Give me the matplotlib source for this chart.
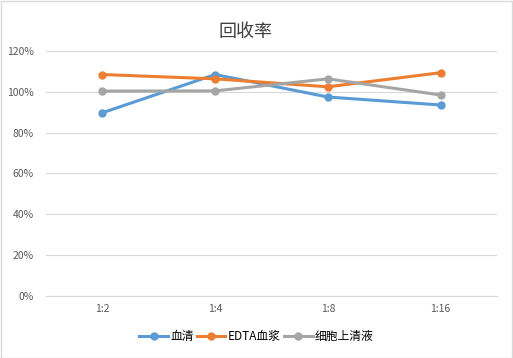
import matplotlib
matplotlib.use("Agg")
import matplotlib.pyplot as plt
from matplotlib.ticker import PercentFormatter

plt.rcParams['font.family'] = ['Noto Sans CJK SC', 'DejaVu Sans']

categories = ['1:2', '1:4', '1:8', '1:16']
serum = [89.7, 108.4, 97.4, 93.5]
edta = [108.4, 106.3, 102.4, 109.3]
supernatant = [100.3, 100.4, 106.3, 98.4]
series_names = ['血清', 'EDTA血浆', '细胞上清液']
colors = ['#5B9BD5', '#ED7D31', '#A5A5A5']

fig = plt.figure(figsize=(5.13, 3.58), dpi=100)
ax = fig.add_axes([0.0897, 0.173, 0.879, 0.685])
x = list(range(len(categories)))
for vals, name, c in zip([serum, edta, supernatant], series_names, colors):
    ax.plot(x, [v / 100 for v in vals], color=c, lw=2.2, marker='o', ms=5, label=name)

ax.set_ylim(0, 1.2)
ax.set_xlim(-0.5, 3.5)
ax.set_yticks([0, 0.2, 0.4, 0.6, 0.8, 1.0, 1.2])
ax.yaxis.set_major_formatter(PercentFormatter(1.0, decimals=0))
ax.set_xticks(x)
ax.set_xticklabels(categories)
ax.grid(axis='y', color='#D9D9D9', lw=0.8)
ax.set_axisbelow(True)
for s in ['top', 'right', 'left']:
    ax.spines[s].set_visible(False)
ax.spines['bottom'].set_color('#D9D9D9')
ax.tick_params(axis='both', length=0, labelsize=7.5, labelcolor='#595959', pad=6)
ax.tick_params(axis='y', pad=9)

fig.text(0.478, 0.91, '回收率', ha='center', va='center', fontsize=13, color='#404040')
leg = fig.legend(loc='center', bbox_to_anchor=(0.5, 0.06), ncol=3, frameon=False,
                 fontsize=8.5, handlelength=2.4, columnspacing=0.3, handletextpad=0.2)
for t in leg.get_texts():
    t.set_color('#000000')

fig.patches.append(plt.Rectangle((0.001, 0.001), 0.997, 0.996, transform=fig.transFigure,
                                 fill=False, edgecolor='#D9D9D9', lw=1))
fig.savefig('out.png', dpi=100)
